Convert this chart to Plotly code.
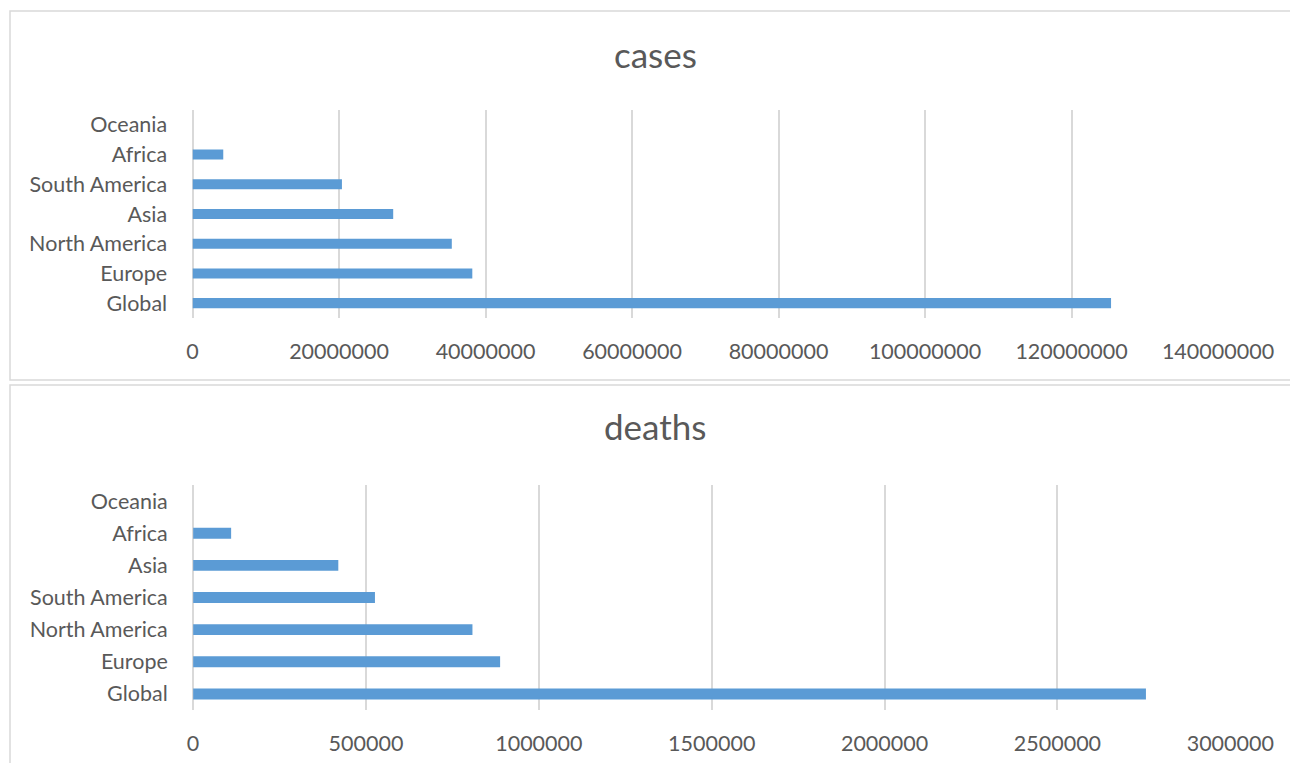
import plotly.graph_objects as go

# Regions listed bottom-to-top (Plotly draws the first category at the bottom)
case_regions = ["Global", "Europe", "North America", "Asia", "South America", "Africa", "Oceania"]
case_values = [125400000, 38200000, 35400000, 27400000, 20400000, 4200000, 0]

death_regions = ["Global", "Europe", "North America", "South America", "Asia", "Africa", "Oceania"]
death_values = [2756000, 888000, 808000, 526000, 420000, 110000, 0]

case_ticks = [0, 20000000, 40000000, 60000000, 80000000, 100000000, 120000000, 140000000]
death_ticks = [0, 500000, 1000000, 1500000, 2000000, 2500000, 3000000]

W, H = 1290, 763
BAR = "#5b9bd5"
TXT = "#595959"
GRID = "#d9d9d9"
FONT = "Lato, Calibri, Carlito, sans-serif"


def px_x(p):
    return p / W


def px_y(p):
    return 1 - p / H


fig = go.Figure()
fig.add_trace(go.Bar(x=case_values, y=case_regions, orientation="h",
                     marker=dict(color=BAR, line=dict(width=0)),
                     xaxis="x", yaxis="y", showlegend=False))
fig.add_trace(go.Bar(x=death_values, y=death_regions, orientation="h",
                     marker=dict(color=BAR, line=dict(width=0)),
                     xaxis="x2", yaxis="y2", showlegend=False))

tick_font = dict(family=FONT, size=21.5, color=TXT)

xaxis_common = dict(showgrid=True, gridcolor=GRID, gridwidth=1.5,
                    zeroline=True, zerolinecolor=GRID, zerolinewidth=1.5,
                    showline=False, ticks="outside", ticklen=14, automargin=False,
                    tickcolor="rgba(0,0,0,0)", tickfont=tick_font,
                    tickformat="d", fixedrange=True)
yaxis_common = dict(type="category", range=[-0.5, 6.5], showgrid=False,
                    zeroline=False, showline=False, ticks="outside", ticklen=20,
                    automargin=False,
                    tickcolor="rgba(0,0,0,0)", tickfont=tick_font, fixedrange=True)

fig.update_layout(
    template="none",
    width=W, height=H, autosize=False,
    margin=dict(l=0, r=0, t=0, b=0, pad=0),
    paper_bgcolor="white", plot_bgcolor="white",
    bargap=0.66,
    font=dict(family=FONT, color=TXT),
    xaxis=dict(domain=[px_x(192.5), px_x(1218)], range=[0, 140000000],
               tickvals=case_ticks, anchor="y", **xaxis_common),
    yaxis=dict(domain=[px_y(318), px_y(110)], anchor="x",
               categoryorder="array", categoryarray=case_regions, **yaxis_common),
    xaxis2=dict(domain=[px_x(193.1), px_x(1230.3)], range=[0, 3000000],
                tickvals=death_ticks, anchor="y2", **xaxis_common),
    yaxis2=dict(domain=[px_y(710), px_y(485)], anchor="x2",
                categoryorder="array", categoryarray=death_regions, **yaxis_common),
    shapes=[
        dict(type="rect", xref="paper", yref="paper",
             x0=px_x(10), x1=px_x(1300), y0=px_y(380), y1=px_y(11),
             line=dict(color=GRID, width=1.5), fillcolor="rgba(0,0,0,0)", layer="below"),
        dict(type="rect", xref="paper", yref="paper",
             x0=px_x(10), x1=px_x(1300), y0=px_y(775), y1=px_y(385),
             line=dict(color=GRID, width=1.5), fillcolor="rgba(0,0,0,0)", layer="below"),
    ],
    annotations=[
        dict(text="cases", xref="paper", yref="paper", x=px_x(655), y=px_y(54),
             xanchor="center", yanchor="middle", showarrow=False,
             font=dict(family=FONT, size=35, color=TXT)),
        dict(text="deaths", xref="paper", yref="paper", x=px_x(655), y=px_y(426),
             xanchor="center", yanchor="middle", showarrow=False,
             font=dict(family=FONT, size=35, color=TXT)),
    ],
)

fig.write_html("out.html")
